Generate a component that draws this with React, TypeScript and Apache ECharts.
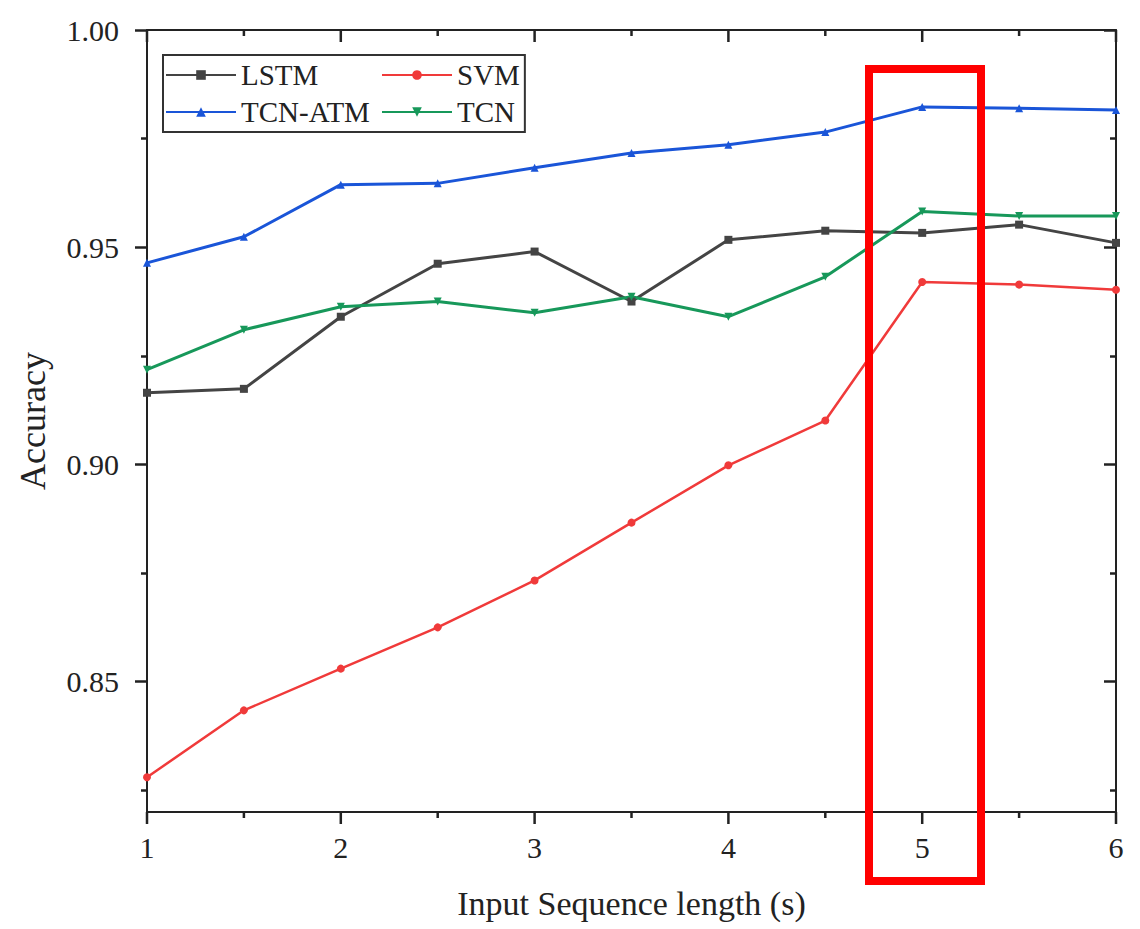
import React, { useEffect, useRef } from "react";
import * as echarts from "echarts";

const xValues = [1, 1.5, 2, 2.5, 3, 3.5, 4, 4.5, 5, 5.5, 6];
const lstm = [0.9165, 0.9174, 0.934, 0.9462, 0.949, 0.9375, 0.9517, 0.9538, 0.9533, 0.9552, 0.951];
const svm = [0.828, 0.8434, 0.853, 0.8625, 0.8733, 0.8866, 0.8998, 0.9101, 0.942, 0.9414, 0.9402];
const tcnAtm = [0.9464, 0.9524, 0.9644, 0.9647, 0.9683, 0.9717, 0.9736, 0.9765, 0.9823, 0.982, 0.9816];
const tcn = [0.9218, 0.931, 0.9363, 0.9375, 0.9349, 0.9386, 0.934, 0.9432, 0.9582, 0.9572, 0.9572];

const xMajorTicks = [1, 2, 3, 4, 5, 6];
const xMinorTicks = [1.5, 2.5, 3.5, 4.5, 5.5];
const yMajorTicks = [0.85, 0.9, 0.95, 1.0];
const yMinorTicks = [0.825, 0.875, 0.925, 0.975];

const FONT = "'Liberation Serif', 'Times New Roman', serif";
const AXIS_COLOR = "#222";
const Y_MIN = 0.82;
const Y_MAX = 1.0;

export default function App() {
  const ref = useRef<HTMLDivElement>(null);
  useEffect(() => {
    document.body.style.margin = "0";
    const chart = echarts.init(ref.current!, null, { renderer: "svg" });
    const pts = (arr: number[]) => xValues.map((x, i) => [x, arr[i]]);
    const lineCommon = { type: "line", showSymbol: true, symbolSize: 8, xAxisIndex: 0, yAxisIndex: 0 };
    const tickStyle = { color: AXIS_COLOR, width: 2.5 };
    const baseY = { type: "value", min: Y_MIN, max: Y_MAX, splitLine: { show: false } };

    const option: any = {
      animation: false,
      backgroundColor: "#ffffff",
      grid: { left: 147, right: 24, top: 30, bottom: 117, outerBoundsMode: "none" },
      legend: {
        left: 163,
        top: 55,
        width: 360,
        orient: "horizontal",
        itemWidth: 70,
        itemHeight: 12,
        itemGap: 5,
        padding: [4, 5, 4, 2],
        borderColor: "#333",
        borderWidth: 2,
        textStyle: { fontFamily: FONT, fontSize: 29, color: "#222", lineHeight: 32, padding: [0, 0, 0, 0] },
        data: [
          { name: "LSTM", textStyle: { width: 135 } },
          { name: "SVM", textStyle: { width: 62 } },
          { name: "TCN-ATM", textStyle: { width: 135 } },
          { name: "TCN", textStyle: { width: 62 } },
        ],
      },
      xAxis: [
        {
          type: "value",
          min: 1,
          max: 6,
          splitLine: { show: false },
          position: "bottom",
          name: "Input Sequence length (s)",
          nameLocation: "middle",
          nameGap: 74,
          nameTextStyle: { fontFamily: FONT, fontSize: 34, color: "#222", verticalAlign: "top" },
          axisLine: { show: true, onZero: false, lineStyle: { color: AXIS_COLOR, width: 2 } },
          axisTick: { show: false },
          axisLabel: { fontFamily: FONT, fontSize: 30, color: "#222", margin: 20, customValues: xMajorTicks },
        },
        {
          type: "value",
          min: 1,
          max: 6,
          splitLine: { show: false },
          position: "top",
          axisLine: { show: true, onZero: false, lineStyle: { color: AXIS_COLOR, width: 2 } },
          axisTick: { show: false },
          axisLabel: { show: false },
        },
      ],
      yAxis: [
        {
          ...baseY,
          position: "left",
          name: "Accuracy",
          nameLocation: "middle",
          nameGap: 96,
          nameTextStyle: { fontFamily: FONT, fontSize: 36, color: "#222" },
          axisLine: { show: true, onZero: false, lineStyle: { color: AXIS_COLOR, width: 2 } },
          axisTick: { show: true, inside: false, length: 12, customValues: yMajorTicks, lineStyle: tickStyle },
          axisLabel: {
            fontFamily: FONT,
            fontSize: 30,
            color: "#222",
            margin: 28,
            customValues: yMajorTicks,
            formatter: (v: number) => v.toFixed(2),
          },
        },
        {
          ...baseY,
          position: "right",
          axisLine: { show: true, onZero: false, lineStyle: { color: AXIS_COLOR, width: 2 } },
          axisTick: { show: true, inside: true, length: 12, customValues: yMajorTicks, lineStyle: tickStyle },
          axisLabel: { show: false },
        },
        {
          ...baseY,
          position: "left",
          axisLine: { show: false, onZero: false },
          axisTick: { show: true, inside: false, length: 6, customValues: yMinorTicks, lineStyle: tickStyle },
          axisLabel: { show: false },
        },
        {
          ...baseY,
          position: "right",
          axisLine: { show: false, onZero: false },
          axisTick: { show: true, inside: true, length: 6, customValues: yMinorTicks, lineStyle: tickStyle },
          axisLabel: { show: false },
        },
      ],
      series: [
        {
          ...lineCommon,
          name: "LSTM",
          symbol: "rect",
          data: pts(lstm),
          itemStyle: { color: "#444444" },
          lineStyle: { color: "#444444", width: 3 },
          z: 3,
        },
        {
          ...lineCommon,
          name: "SVM",
          symbol: "circle",
          data: pts(svm),
          itemStyle: { color: "#f03a3a" },
          lineStyle: { color: "#f03a3a", width: 2.5 },
          z: 2,
        },
        {
          ...lineCommon,
          name: "TCN-ATM",
          symbol: "triangle",
          data: pts(tcnAtm),
          itemStyle: { color: "#1a55d8" },
          lineStyle: { color: "#1a55d8", width: 3 },
          z: 4,
        },
        {
          ...lineCommon,
          name: "TCN",
          symbol: "triangle",
          symbolRotate: 180,
          data: pts(tcn),
          itemStyle: { color: "#17985a" },
          lineStyle: { color: "#17985a", width: 3 },
          z: 3,
        },
      ],
    };
    chart.setOption(option);

    // x-axis ticks (bottom outward, top inward), placed through the chart's own scales
    const tickRects: any[] = [];
    const addTicks = (ticks: number[], len: number) => {
      ticks.forEach((v) => {
        const b = chart.convertToPixel({ gridIndex: 0 }, [v, Y_MIN]) as number[];
        const t = chart.convertToPixel({ gridIndex: 0 }, [v, Y_MAX]) as number[];
        tickRects.push({
          type: "rect",
          shape: { x: b[0] - 1.25, y: b[1], width: 2.5, height: len },
          style: { fill: AXIS_COLOR },
          z: 50,
        });
        tickRects.push({
          type: "rect",
          shape: { x: t[0] - 1.25, y: t[1], width: 2.5, height: len },
          style: { fill: AXIS_COLOR },
          z: 50,
        });
      });
    };
    addTicks(xMajorTicks, 12);
    addTicks(xMinorTicks, 6);

    chart.setOption({
      graphic: [
        ...tickRects,
        {
          type: "rect",
          shape: { x: 869, y: 69, width: 112, height: 812 },
          style: { fill: "none", stroke: "#ff0000", lineWidth: 8 },
          z: 100,
        },
      ],
    });
    return () => chart.dispose();
  }, []);
  return <div ref={ref} style={{ width: 1140, height: 929 }} />;
}
